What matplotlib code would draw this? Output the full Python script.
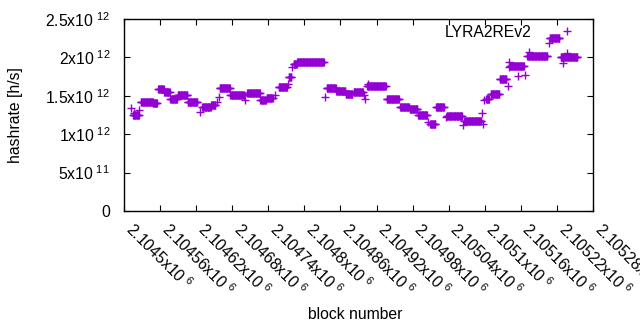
import numpy as np
import matplotlib
matplotlib.use("Agg")
import matplotlib.pyplot as plt

plt.rcParams['font.family'] = ['Liberation Sans', 'DejaVu Sans']
plt.rcParams['mathtext.default'] = 'regular'

# runs of blocks with (nearly) constant hashrate
seg_start = [2104512, 2104517, 2104515, 2104525, 2104528, 2104548, 2104557, 2104567, 2104577, 2104589,
             2104606, 2104626, 2104630, 2104645, 2104655, 2104658, 2104659, 2104677, 2104702, 2104705,
             2104727, 2104737, 2104751, 2104757, 2104772, 2104774, 2104780, 2104782, 2104788, 2104834,
             2104837, 2104853, 2104869, 2104882, 2104899, 2104900, 2104906, 2104904, 2104937, 2104959,
             2104975, 2104989, 2105005, 2105009, 2105019, 2105035, 2105037, 2105063, 2105066, 2105096,
             2105097, 2105099, 2105102, 2105110, 2105125, 2105138, 2105140, 2105141, 2105142, 2105156,
             2105167, 2105171, 2105173, 2105206, 2105208, 2105226, 2105230, 2105236]
seg_end = [2104512, 2104517, 2104525, 2104525, 2104548, 2104555, 2104566, 2104576, 2104588, 2104605,
           2104622, 2104626, 2104644, 2104652, 2104655, 2104658, 2104676, 2104700, 2104702, 2104726,
           2104736, 2104747, 2104751, 2104771, 2104772, 2104778, 2104780, 2104787, 2104832, 2104834,
           2104852, 2104868, 2104880, 2104897, 2104899, 2104900, 2104906, 2104935, 2104957, 2104974,
           2104988, 2105004, 2105005, 2105018, 2105032, 2105035, 2105062, 2105063, 2105094, 2105096,
           2105097, 2105099, 2105107, 2105124, 2105136, 2105138, 2105140, 2105141, 2105165, 2105156,
           2105167, 2105204, 2105173, 2105206, 2105224, 2105254, 2105230, 2105236]
seg_value = [1.34, 1.27, 1.25, 1.32, 1.415, 1.40, 1.585, 1.545, 1.455, 1.505,
             1.425, 1.285, 1.35, 1.38, 1.42, 1.49, 1.60, 1.51, 1.44, 1.53,
             1.445, 1.47, 1.51, 1.62, 1.66, 1.75, 1.88, 1.91, 1.94, 1.49,
             1.605, 1.565, 1.52, 1.555, 1.51, 1.46, 1.65, 1.63, 1.46, 1.36,
             1.325, 1.25, 1.16, 1.13, 1.35, 1.23, 1.24, 1.12, 1.17, 1.27,
             1.13, 1.44, 1.46, 1.52, 1.72, 1.63, 1.88, 1.94, 1.89, 1.76,
             1.77, 2.02, 2.07, 2.19, 2.25, 2.01, 1.93, 2.06]  # x 10^12 h/s

xtick_values = [2104500, 2104560, 2104620, 2104680, 2104740, 2104800, 2104860,
                2104920, 2104980, 2105040, 2105100, 2105160, 2105220, 2105280]
xtick_labels = ['2.1045', '2.10456', '2.10462', '2.10468', '2.10474', '2.1048', '2.10486',
                '2.10492', '2.10498', '2.10504', '2.1051', '2.10516', '2.10522', '2.10528']
ytick_values = [0, 0.5e12, 1.0e12, 1.5e12, 2.0e12, 2.5e12]
ytick_labels = ['0', r'5x10$^{\ 11}$', r'1x10$^{\ 12}$', r'1.5x10$^{\ 12}$',
                r'2x10$^{\ 12}$', r'2.5x10$^{\ 12}$']

blocks = []
rates = []
for s, e, v in zip(seg_start, seg_end, seg_value):
    b = np.arange(s, e + 1)
    blocks.append(b)
    rates.append(np.full(b.shape, v * 1e12))
blocks = np.concatenate(blocks)
rates = np.concatenate(rates)

FS = 11.3
fig = plt.figure(figsize=(6.4, 3.3), dpi=100)
ax = fig.add_axes([124/640, 1 - 211/330, (593-124)/640, (211-19)/330])
ax.plot(blocks, rates, linestyle='none', marker='+', markersize=6, markeredgewidth=1.0,
        color='#9400D3', label='LYRA2REv2')

ax.set_xlim(2104500, 2105280)
ax.set_ylim(0, 2.5e12)
ax.set_xticks(xtick_values)
ax.set_xticklabels([l + r'x10$^{\ 6}$' for l in xtick_labels], rotation=-45,
                   ha='left', va='baseline', rotation_mode='anchor', fontsize=FS)
ax.set_yticks(ytick_values)
ax.set_yticklabels(ytick_labels, fontsize=FS)
ax.tick_params(direction='in', length=4, width=0.8, top=True, right=True, color='black')
ax.tick_params(axis='y', pad=10)
ax.tick_params(axis='x', pad=14)
for sp in ax.spines.values():
    sp.set_linewidth(1.0)

ax.set_ylabel('hashrate [h/s]', fontsize=FS)
ax.set_xlabel('block number', fontsize=FS)
ax.xaxis.set_label_coords((355-124)/469, (211-307)/192)
ax.yaxis.set_label_coords((23-124)/469, 0.5)

ax.legend(loc='center right', bbox_to_anchor=(0.978, 0.932), frameon=False,
          markerfirst=False, numpoints=1, handlelength=2, handletextpad=1.24,
          borderpad=0, borderaxespad=0, fontsize=FS)

fig.savefig('out.png', dpi=100)
